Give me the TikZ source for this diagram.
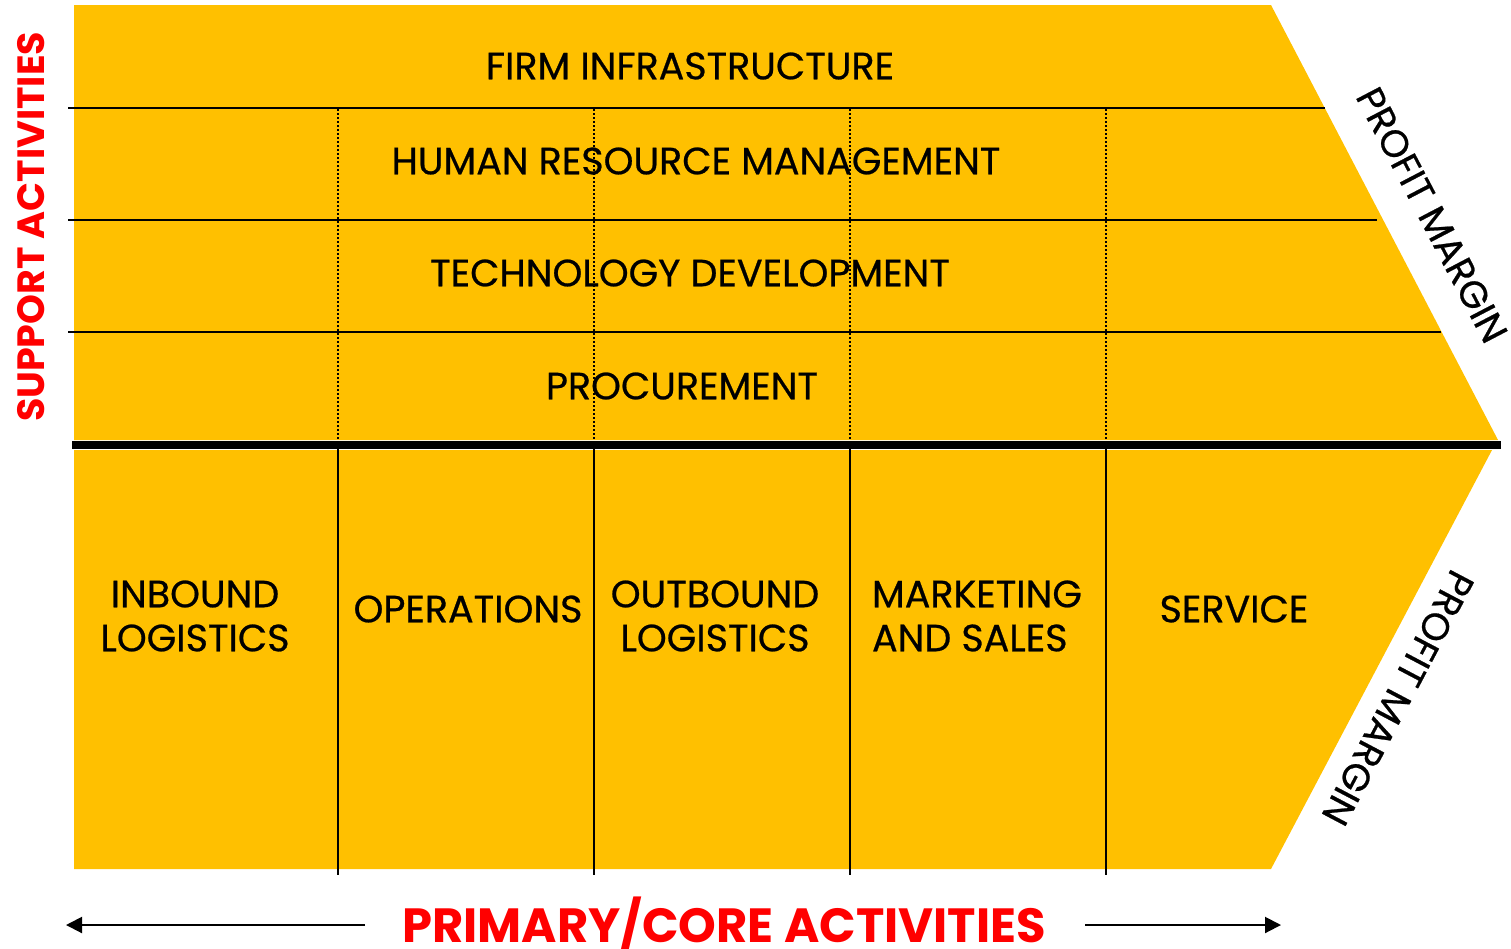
\documentclass[tikz,border=0pt]{standalone}
\usepackage{fontspec}
\setmainfont{Poppins}
\newfontfamily\labelfont{Poppins}[FakeBold=0.6]
\newfontfamily\headfont{Poppins}[BoldFont=*-Bold]
\usetikzlibrary{arrows.meta}
\definecolor{chainyellow}{HTML}{FFC000}
\definecolor{headred}{HTML}{FF0000}
\begin{document}
\begin{tikzpicture}[x=1pt,y=-1pt,
  band/.style={fill=chainyellow,draw=none},
  rule/.style={line width=2pt},
  dotrule/.style={line width=2pt,dash pattern=on 2pt off 2pt},
  lbl/.style={inner sep=0pt,font=\labelfont\fontsize{38}{44}\selectfont,align=center},
  head/.style={inner sep=0pt,text=headred,font=\headfont\bfseries\fontsize{38}{44}\selectfont},
  flow/.style={line width=2pt,-{Triangle[length=16pt,width=16pt]}}]
\useasboundingbox (0,0) rectangle (1511,948);
% support block and primary block
\fill[band] (74,5) -- (1271,5) -- (1498,440) -- (74,440) -- cycle;
\fill[band] (74,450) -- (1492,450) -- (1271,869) -- (74,869) -- cycle;
% horizontal separators of the support rows
\draw[rule] (68,108) -- (1325,108);
\draw[rule] (68,220) -- (1377,220);
\draw[rule] (68,332) -- (1441,332);
\draw[line width=8pt] (72,445) -- (1501,445);
% column guides
\foreach \cx in {338,594,850,1106}{
  \draw[dotrule] (\cx,109) -- (\cx,441);
  \draw[rule] (\cx,449) -- (\cx,875);
}
% support activity labels
\node[lbl] (firm) at (690,66) {FIRM INFRASTRUCTURE};
\node[lbl] (hrm) at (696,161) {HUMAN RESOURCE MANAGEMENT};
\node[lbl] (tech) at (690,273) {TECHNOLOGY DEVELOPMENT};
\node[lbl] (proc) at (682,386) {PROCUREMENT};
% primary activity labels
\node[lbl] (inb) at (195,616) {INBOUND\\LOGISTICS};
\node[lbl] (ops) at (468,609) {OPERATIONS};
\node[lbl] (outb) at (715,616) {OUTBOUND\\LOGISTICS};
\node[lbl,align=left] (mkt) at (977,616) {MARKETING\\AND SALES};
\node[lbl] (serv) at (1234,609) {SERVICE};
% margin labels
\node[lbl,rotate=-62.4] (pm1) at (1432,215) {PROFIT MARGIN};
\node[lbl,rotate=-117.8] (pm2) at (1398,698) {PROFIT MARGIN};
% side headings
\node[head,rotate=90] (sup) at (31,227) {SUPPORT ACTIVITIES};
\node[head,anchor=base,font=\headfont\bfseries\fontsize{48}{52}\selectfont] (prim) at (724,942) {PRIMARY/CORE ACTIVITIES};
\coordinate (lend) at (66,925);
\coordinate (rend) at (1281,925);
\coordinate (lstart) at (365,925);
\coordinate (rstart) at (1085,925);
\draw[flow] (lstart) -- (lend);
\draw[flow] (rstart) -- (rend);
\end{tikzpicture}
\end{document}
